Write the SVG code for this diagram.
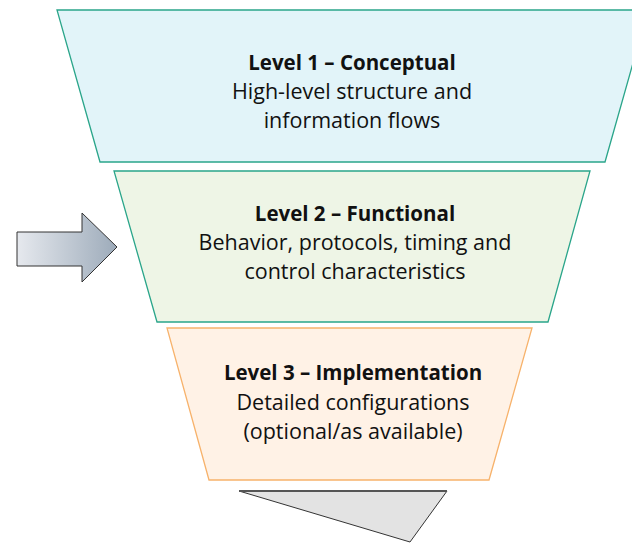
<svg xmlns="http://www.w3.org/2000/svg" width="632" height="545" viewBox="0 0 632 545">
<style>
.t{font-family:"Open Sans","Liberation Sans",sans-serif;font-size:21.5px;fill:#111;text-anchor:middle}
.b{font-weight:bold;font-size:20.5px}
</style>
<defs>
<linearGradient id="ag" x1="0" y1="0" x2="1" y2="0">
<stop offset="0" stop-color="#e6e9ee"/>
<stop offset="1" stop-color="#9dabba"/>
</linearGradient>
</defs>
<rect width="632" height="545" fill="#fff"/>
<g id="level1">
<polygon points="57,10 648,10 605,162 100,162" fill="#e2f4f9" stroke="#2aa58a" stroke-width="1.3"/>
<text class="t b" x="352" y="70">Level 1 – Conceptual</text>
<text class="t" x="352" y="99">High-level structure and</text>
<text class="t" x="352" y="128">information flows</text>
</g>
<g id="level2">
<polygon points="114,171 590,171 548,322 157,322" fill="#eef5e6" stroke="#2aa58a" stroke-width="1.3"/>
<text class="t b" x="355" y="221">Level 2 – Functional</text>
<text class="t" x="355" y="250">Behavior, protocols, timing and</text>
<text class="t" x="355" y="279">control characteristics</text>
</g>
<g id="level3">
<polygon points="167,328 532,328 489,480 209,480" fill="#fff2e6" stroke="#f7b26b" stroke-width="1.3"/>
<text class="t b" x="353" y="380">Level 3 – Implementation</text>
<text class="t" x="353" y="410">Detailed configurations</text>
<text class="t" x="353" y="439">(optional/as available)</text>
</g>
<g id="bottom">
<polygon points="239,491 447,491 410,542" fill="#e3e3e3" stroke="#333" stroke-width="1"/>
<line x1="239" y1="491" x2="447" y2="491" stroke="#555" stroke-width="2"/>
</g>
<g id="arrow">
<polygon points="17,232 82,232 82,213 117,247 82,282 82,266 17,266" fill="url(#ag)" stroke="#333" stroke-width="1"/>
</g>
<g id="connectors"/>
</svg>
